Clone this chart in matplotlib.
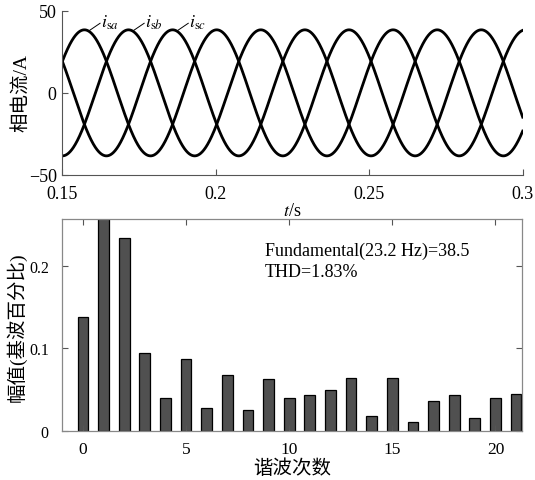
import numpy as np
import matplotlib
matplotlib.use("Agg")
import matplotlib.pyplot as plt

plt.rcParams['mathtext.fontset'] = 'stix'
plt.rcParams['font.family'] = ['Liberation Serif', 'Noto Sans CJK SC']

# ---- data ----
amplitude = 38.5          # A
freq = 23.2               # Hz
t_peak_a = 0.1572         # time of first i_sa peak (s)
t_start, t_end = 0.15, 0.30
phase_names = ['$i_{\\mathrm{s}a}$', '$i_{\\mathrm{s}b}$', '$i_{\\mathrm{s}c}$']
phase_shifts = [0.0, -2*np.pi/3, 2*np.pi/3]

harmonic_order = list(range(22))
harmonic_pct = [0.1375, 100.0, 0.2333, 0.0941, 0.0398, 0.0872, 0.0280, 0.0682,
                0.0252, 0.0625, 0.0402, 0.0434, 0.0491, 0.0637, 0.0183, 0.0637,
                0.0110, 0.0369, 0.0442, 0.0154, 0.0402, 0.0454]

top_xticks = [0.15, 0.2, 0.25, 0.3]
top_xticklabels = ['0.15', '0.2', '0.25', '0.3']
top_yticks = [-50, 0, 50]
bot_xticks = [0, 5, 10, 15, 20]
bot_yticks = [0, 0.1, 0.2]
bot_yticklabels = ['0', '0.1', '0.2']

fig = plt.figure(figsize=(5.35, 4.81), dpi=100)
W, H = 535, 481

def ax_rect(l, t, r, b):
    return [l / W, 1 - b / H, (r - l) / W, (b - t) / H]

# ---- top: phase currents ----
ax1 = fig.add_axes(ax_rect(62.3, 12, 522.7, 175.7))
t = np.linspace(t_start, t_end, 3000)
w = 2 * np.pi * freq
for ph in phase_shifts:
    ax1.plot(t, amplitude * np.cos(w * (t - t_peak_a) + ph), color='black', lw=2.0)
ax1.set_xlim(t_start, t_end)
ax1.set_ylim(-50, 50)
ax1.spines['top'].set_visible(False)
ax1.spines['right'].set_visible(False)
for s in ['left', 'bottom']:
    ax1.spines[s].set_color('#555555')
    ax1.spines[s].set_linewidth(0.8)
ax1.set_xticks(top_xticks)
ax1.set_xticklabels(top_xticklabels)
ax1.set_yticks(top_yticks)
ax1.set_yticklabels(['\u221250', '0', '50'])
ax1.tick_params(direction='in', length=4, width=0.8, color='#555555', labelsize=13)
ax1.tick_params(axis='x', pad=7.5)
ax1.tick_params(axis='y', pad=4)
ax1.set_xlabel('$t$/s', fontsize=13, labelpad=0)
fig.text(22 / W, 1 - 93 / H, '相电流/A', rotation=90, fontsize=14,
         ha='center', va='center')

period = 1.0 / freq
for k, name in enumerate(phase_names):
    tp = t_peak_a + k * period / 3
    lx = tp + 0.0054
    ax1.plot([tp + 0.0018, lx - 0.0003], [38.3, 42.5], color='black', lw=0.7)
    ax1.text(lx, 40.5, name, fontsize=13, va='baseline', ha='left')

# ---- bottom: harmonic spectrum ----
ax2 = fig.add_axes(ax_rect(62.3, 220.3, 522.3, 432))
ax2.bar(harmonic_order, harmonic_pct, width=0.52, color='#505050',
        edgecolor='black', linewidth=0.9)
ax2.set_xlim(-1, 21.3)
ax2.set_ylim(0, 0.2564)
for s in ax2.spines.values():
    s.set_color('#888888')
    s.set_linewidth(0.9)
ax2.set_xticks(bot_xticks)
ax2.set_yticks(bot_yticks)
ax2.set_yticklabels(bot_yticklabels)
ax2.tick_params(direction='in', length=4, width=0.8, color='#555555', labelsize=12.5,
                top=True, right=True)
ax2.tick_params(axis='x', pad=7.5)
ax2.tick_params(axis='y', pad=9.7, labelsize=11.5)
ax2.set_xlabel('谐波次数', fontsize=14, labelpad=1)
fig.text(16 / W, 1 - 327 / H, '幅值(基波百分比)', rotation=90, fontsize=14,
         ha='center', va='center')
ax2.text(0.4407, 0.831, 'Fundamental(23.2 Hz)=38.5', transform=ax2.transAxes,
         fontsize=13, va='baseline', ha='left')
ax2.text(0.4407, 0.732, 'THD=1.83%', transform=ax2.transAxes,
         fontsize=13, va='baseline', ha='left')

fig.savefig('out.png', dpi=100)
